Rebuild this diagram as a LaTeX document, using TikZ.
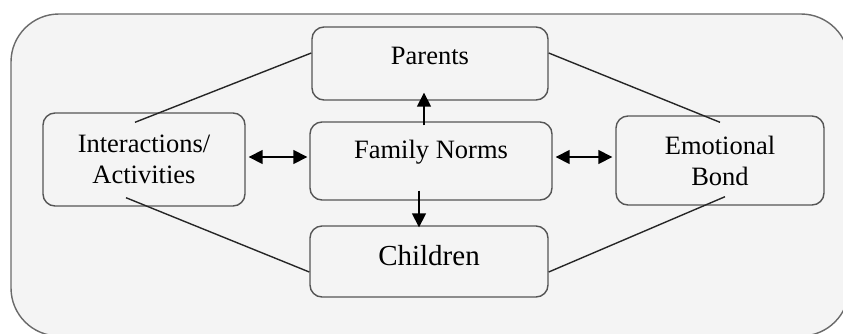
\documentclass[tikz,border=0pt]{standalone}
\usepackage{fontspec}
\setmainfont{Liberation Serif}
\usetikzlibrary{arrows.meta,calc}
\definecolor{bgfill}{HTML}{F4F4F4}
\definecolor{boxline}{HTML}{555555}
\definecolor{outerline}{HTML}{6A6A6A}
\tikzset{
  concept/.style={draw=boxline, line width=1.4pt, rounded corners=12pt, align=center,
    font=\fontsize{26.5}{31}\selectfont, inner sep=0pt},
  link/.style={line width=1.4pt, draw=black!85},
  arr/.style={line width=1.6pt, -{Triangle[length=14pt,width=14pt]}},
  darr/.style={line width=1.6pt, {Triangle[length=14pt,width=14pt]}-{Triangle[length=14pt,width=14pt]}}
}
\begin{document}
\begin{tikzpicture}[x=1pt,y=-1pt]
\useasboundingbox (0,0) rectangle (843,333);
\fill[white] (0,0) rectangle (843,333);
\begin{scope}
\clip (0,0) rectangle (843,333);
\draw[draw=outerline, fill=bgfill, line width=1.4pt, rounded corners=48pt] (11,14) rectangle (849,336);
\end{scope}

\node[concept, minimum width=236pt, minimum height=73pt, text height=17.5pt, text depth=16.5pt] (par) at (430,63.5) {Parents};
\node[concept, minimum width=242pt, minimum height=78pt, text height=17.5pt, text depth=22.9pt] (fn) at (431,161) {Family Norms};
\node[concept, minimum width=202pt, minimum height=93pt] (ia) at (144,159.5) {Interactions/\\Activities};
\node[concept, minimum width=208pt, minimum height=89pt] (eb) at (720,160.5) {Emotional\\Bond};
\node[concept, minimum width=238pt, minimum height=71pt, font=\fontsize{29}{34}\selectfont, text height=19.2pt, text depth=12.2pt] (ch) at (429,261.5) {Children};

\draw[link] ($(par.west)+(0,-10.5)$) -- ($(ia.north)+(-9,10)$);
\draw[link] ($(par.east)+(0,-10.5)$) -- ($(eb.north)+(0,7)$);
\draw[link] ($(ia.south)+(-18,-9)$) -- ($(ch.west)+(0,10.5)$);
\draw[link] ($(ch.east)+(0,10.5)$) -- ($(eb.south)+(5,-9)$);

\draw[arr] ($(fn.north)+(-7,4)$) -- ($(par.south)+(-6,-8)$);
\draw[arr] ($(fn.south)+(-12,-10)$) -- ($(ch.north)+(-10,2)$);
\draw[darr] ($(ia.east)+(3,-2.5)$) -- ($(fn.west)+(-2,-4)$);
\draw[darr] ($(fn.east)+(3,-4)$) -- ($(eb.west)+(-3,-3.5)$);
\end{tikzpicture}
\end{document}
